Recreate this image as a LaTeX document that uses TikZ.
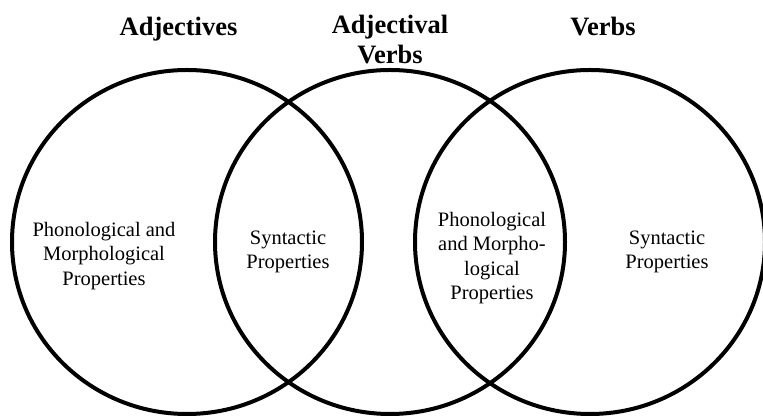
\documentclass[tikz,border=0pt]{standalone}
\usepackage{fontspec}
\setmainfont{Liberation Serif}
\tikzstyle{set}=[line width=4pt]
\tikzstyle{heading}=[font=\bfseries\fontsize{26.5}{30}\selectfont,align=center,inner sep=0pt]
\tikzstyle{prop}=[font=\fontsize{20.5}{24.6}\selectfont,align=center,inner sep=0pt]

\begin{document}
\begin{tikzpicture}[x=1pt,y=1pt]
          \useasboundingbox (0,0) rectangle (763,417);
          \foreach \name/\x in {adj/187, adjv/390, verb/590}
            \coordinate (\name) at (\x,175);
          \foreach \name in {adj, adjv, verb}
            \draw[set] (\name) ellipse [x radius=175, y radius=172];
          % set names
          \node[heading,anchor=base] (adj-title) at (178.5,381) {Adjectives};
          \node[heading] (adjv-title) at (390,377) {Adjectival\\Verbs};
          \node[heading,anchor=base] (verb-title) at (603,381) {Verbs};
          % properties
          \node[prop] (adj-only) at (104,161) {Phonological and\\Morphological\\Properties};
          \node[prop] (adj-adjv) at (288,165) {Syntactic\\Properties};
          \node[prop] (adjv-verb) at (492,159) {Phonological\\and Morpho-\\logical\\Properties};
          \node[prop] (verb-only) at (667,165) {Syntactic\\Properties};
        \end{tikzpicture}
\end{document}
